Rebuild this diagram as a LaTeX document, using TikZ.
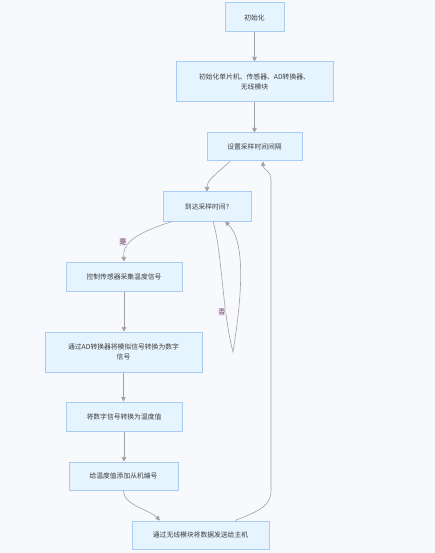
\documentclass[tikz,border=0pt]{standalone}
\usepackage{fontspec}
\setmainfont{Noto Sans CJK SC}
\usetikzlibrary{arrows.meta}

\definecolor{bgpage}{RGB}{248,249,252}
\definecolor{boxfill}{RGB}{230,244,255}
\definecolor{boxline}{RGB}{169,204,245}
\definecolor{flowline}{RGB}{160,160,160}
\definecolor{lblfill}{RGB}{240,228,246}
\definecolor{txtgray}{RGB}{60,60,60}

\tikzset{every picture/.style={line width=0.75pt}}
\tikzset{
  stepbox/.style={draw=boxline, fill=boxfill, line width=1pt, align=center, font=\fontsize{6.8}{10}\selectfont, text=txtgray, inner sep=0pt},
  flow/.style={draw=flowline, line width=0.6pt, -{Triangle[length=4.5pt,width=4.5pt]}},
  lbl/.style={fill=lblfill, inner sep=1pt, font=\fontsize{6.8}{8}\selectfont, text=txtgray!80!violet}
}

\begin{document}
\begin{tikzpicture}[x=1pt,y=1pt,yscale=-1,xscale=1]
\fill[bgpage] (0,0) rectangle (435,553);
\useasboundingbox (0,0) rectangle (435,553);

%Shape: Rectangle [init]
\node (init) [stepbox, minimum width=59, minimum height=29] at (254.5,17.5) {初始化};
%Shape: Rectangle [setup]
\node (setup) [stepbox, minimum width=157, minimum height=40] at (254.5,82) {初始化单片机、传感器、AD转换器、\\无线模块};
%Shape: Rectangle [interval]
\node (interval) [stepbox, minimum width=95, minimum height=28] at (254.5,147) {设置采样时间间隔};
%Shape: Rectangle [check]
\node (check) [stepbox, minimum width=88, minimum height=29] at (207,206.5) {到达采样时间?};
%Shape: Rectangle [sample]
\node (sample) [stepbox, minimum width=116, minimum height=29] at (124,276.5) {控制传感器采集温度信号};
%Shape: Rectangle [convert]
\node (convert) [stepbox, minimum width=157, minimum height=40] at (123.5,352) {通过AD转换器将模拟信号转换为数字\\信号};
%Shape: Rectangle [temp]
\node (temp) [stepbox, minimum width=116, minimum height=29] at (124,416.5) {将数字信号转换为温度值};
%Shape: Rectangle [tag]
\node (tag) [stepbox, minimum width=109, minimum height=28] at (123.5,476) {给温度值添加从机编号};
%Shape: Rectangle [send]
\node (send) [stepbox, minimum width=137, minimum height=28] at (200.5,535) {通过无线模块将数据发送给主机};

%Loop corner
\coordinate (looptip) at (233,352);

%Straight Lines
\draw [flow] (init) -- (setup);
\draw [flow] (setup) -- (interval);
\draw [flow] (sample.south) -- (sample.south |- convert.north);
\draw [flow] (convert.south) -- (convert.south |- temp.north);
\draw [flow] (temp.south) -- (temp.south |- tag.north);

%Curves
\draw [flow] ([xshift=-24.5]interval.south) .. controls (215,175) and (207,180) .. (check.north);
\draw [flow] ([xshift=-35]check.south) .. controls (130,235) and (123,245) .. (sample.north);
\draw [flow] ([xshift=6]check.south) .. controls (222,250) and (222,310) .. (looptip) .. controls (243,290) and (245,240) .. ([xshift=18]check.south);
\draw [flow] (tag.south) .. controls (123,505) and (150,510) .. ([xshift=-40.5]send.north);
\draw [flow] ([xshift=34.5]send.north) .. controls (262,510) and (271,505) .. (271,490) -- (271,180) .. controls (271,170) and (263,170) .. ([xshift=8.5]interval.south);

% Text Node
\node (yes) [lbl] at (123,242) {是};
% Text Node
\node (no) [lbl] at (222,312) {否};

\end{tikzpicture}
\end{document}
